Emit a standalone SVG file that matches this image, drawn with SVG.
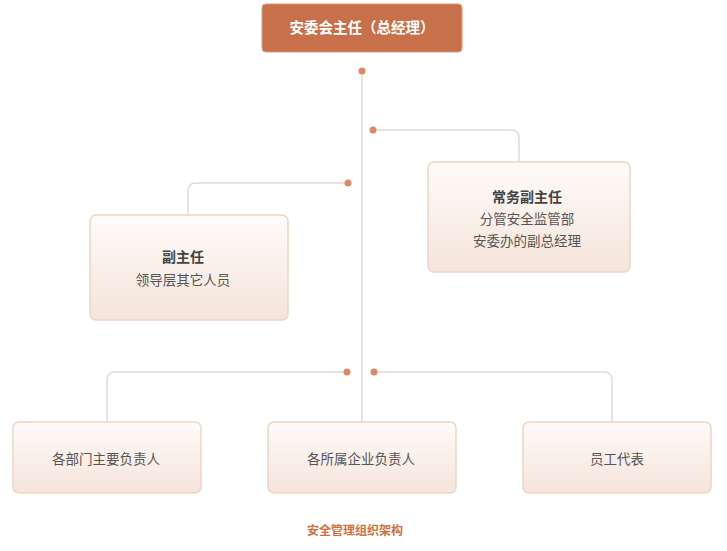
<svg xmlns="http://www.w3.org/2000/svg" width="727" height="551" viewBox="0 0 727 551">
<defs>
<linearGradient id="g" x1="0" y1="0" x2="0" y2="1">
<stop offset="0" stop-color="#fefbf9"/>
<stop offset="1" stop-color="#f5e4da"/>
</linearGradient>
<style>
.box{fill:url(#g);stroke:#f0d4c4;stroke-width:1.5}
.ln{fill:none;stroke:#dcdcdc;stroke-width:1.5}
.dot{fill:#dc8a66}
text{font-family:"Noto Sans CJK SC","Noto Sans",sans-serif;text-anchor:middle}
.t{font-size:13.5px;fill:#555}
.h{font-size:14px;font-weight:bold;fill:#444}
</style>
</defs>
<rect width="727" height="551" fill="#fff"/>
<g id="connectors">
<path class="ln" d="M362 71 V422"/>
<path class="ln" d="M373 130 H511 Q519 130 519 138 V162"/>
<path class="ln" d="M348 183 H196 Q188 183 188 191 V215"/>
<path class="ln" d="M347 372 H115 Q107 372 107 380 V422"/>
<path class="ln" d="M374 372 H604 Q612 372 612 380 V422"/>
<circle class="dot" cx="362" cy="71" r="3.5"/>
<circle class="dot" cx="373" cy="130" r="3.5"/>
<circle class="dot" cx="348" cy="183" r="3.5"/>
<circle class="dot" cx="347" cy="372" r="3.5"/>
<circle class="dot" cx="374" cy="372" r="3.5"/>
</g>
<g id="top">
<rect x="262" y="4" width="200" height="48" rx="4" fill="#c8704a" stroke="#e09878" stroke-width="1"/>
<text x="362" y="33" font-size="14.5" font-weight="bold" fill="#fff">安委会主任（总经理）</text>
</g>
<g id="deputy-exec">
<rect class="box" x="428" y="162" width="202" height="110" rx="6"/>
<text class="h" x="527" y="202">常务副主任</text>
<text class="t" x="527" y="224">分管安全监管部</text>
<text class="t" x="527" y="246">安委办的副总经理</text>
</g>
<g id="deputy">
<rect class="box" x="90" y="215" width="198" height="105" rx="6"/>
<text class="h" x="183" y="262">副主任</text>
<text class="t" x="183" y="285">领导层其它人员</text>
</g>
<g id="dept">
<rect class="box" x="13" y="422" width="188" height="71" rx="6"/>
<text class="t" x="106" y="464">各部门主要负责人</text>
</g>
<g id="sub">
<rect class="box" x="268" y="422" width="188" height="71" rx="6"/>
<text class="t" x="361" y="464">各所属企业负责人</text>
</g>
<g id="staff">
<rect class="box" x="523" y="422" width="188" height="71" rx="6"/>
<text class="t" x="617" y="464">员工代表</text>
</g>
<text x="355" y="535" font-size="12" font-weight="bold" fill="#d0703f">安全管理组织架构</text>
</svg>
